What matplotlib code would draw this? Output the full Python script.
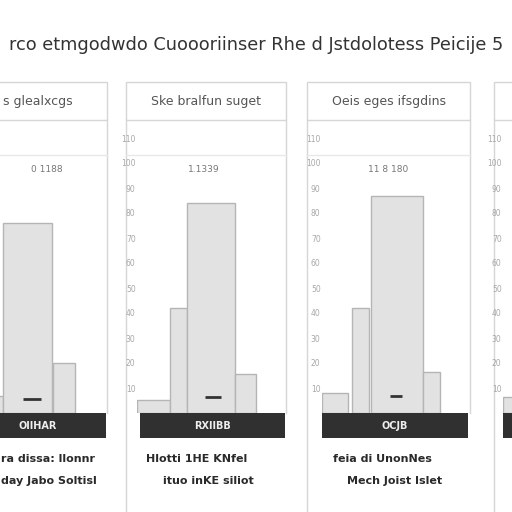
import matplotlib.pyplot as plt
from matplotlib.patches import Rectangle

# text (it is blurred / garbled, kept as close as possible)
title = "rco etmgodwdo Cuoooriinser Rhe d Jstdolotess Peicije 5"
panel_titles = ["s glealxcgs", "Ske bralfun suget", "Oeis eges ifsgdins", ""]
strip_labels = ["OIIHAR", "RXIIBB", "OCJB", ""]
value_labels = ["0 1188", "1.1339", "11 8 180", ""]
notes_1 = ["ra dissa: llonnr", "Hlotti 1HE KNfel", "feia di UnonNes", ""]
notes_2 = ["day Jabo Soltisl", "ituo inKE siliot", "Mech Joist Islet", ""]

# bar values per panel
bars_1 = [7, 76, 20]
bars_2 = [5.2, 42, 84, 15.6]
bars_3 = [8, 42, 86.8, 16.4]
bars_4 = [6.4]
marks = [5.6, 6.4, 6.8, None]

yticks = [10, 20, 30, 40, 50, 60, 70, 80, 90, 100, 110]
ylabels = ["10", "20", "30", "40", "50", "60", "70", "80", "90", "100", "110"]

# layout (pixels on a 512x512 canvas)
W = 512.0
panel_x = [(0, 106), (137, 285), (322, 468), (503, 560)]
bar_left = [[-22, 3, 53], [0, 33, 50, 98], [0, 30, 49, 101], [0]]
bar_w = [[25, 49, 22], [33, 17, 48, 21], [26, 17, 52, 17], [12]]
mark_x = [(23, 41), (68, 84), (68, 80), None]
header_x = [(-5, 107), (126, 286), (307, 470), (494, 530)]
strip_x = [(-5, 106), (140, 285), (322, 468), (503, 530)]
text_cx = [38, 206, 388, 520]
note_x = [1, 146, 333, 520]
note2_x = [1, 163, 347, 520]
ax_top, ax_bot = 125, 413

fig = plt.figure(figsize=(5.12, 5.12), dpi=100)
fig.patch.set_facecolor("white")

bg = fig.add_axes([0, 0, 1, 1], zorder=0)
bg.set_xlim(0, W)
bg.set_ylim(W, 0)
bg.axis("off")

line_c = "#d6d6d6"
bg.text(256, 45, title, ha="center", va="center", fontsize=12.8, color="#333333")

for i in range(4):
    hx0, hx1 = header_x[i]
    bg.add_patch(Rectangle((hx0, 82), hx1 - hx0, 38, fill=False, ec=line_c, lw=1))
    if panel_titles[i]:
        bg.text((hx0 + hx1) / 2 if i else text_cx[0], 101, panel_titles[i], ha="center",
                va="center", fontsize=9, color="#555555")
    # body borders
    if i > 0:
        bg.plot([hx0, hx0], [120, 512], color=line_c, lw=1)
    if i < 3:
        bg.plot([hx1, hx1], [120, 413], color=line_c, lw=1)
        bg.plot([hx0, hx1], [155, 155], color="#e8e8e8", lw=1)
    sx0, sx1 = strip_x[i]
    bg.add_patch(Rectangle((sx0, 413), sx1 - sx0, 25, color="#303030", lw=0))
    if strip_labels[i]:
        bg.text(text_cx[i] if i == 0 else (sx0 + sx1) / 2, 426, strip_labels[i],
                ha="center", va="center", fontsize=7, color="#eeeeee", fontweight="bold")
    if notes_1[i]:
        bg.text(note_x[i], 459, notes_1[i], ha="left", va="center", fontsize=8,
                color="#2a2a2a", fontweight="bold")
        bg.text(note2_x[i], 481, notes_2[i], ha="left", va="center", fontsize=8,
                color="#2a2a2a", fontweight="bold")

all_bars = [bars_1, bars_2, bars_3, bars_4]
for i in range(4):
    x0, x1 = panel_x[i]
    ax = fig.add_axes([x0 / W, 1 - ax_bot / W, (x1 - x0) / W, (ax_bot - ax_top) / W], zorder=1)
    ax.patch.set_alpha(0)
    ax.set_xlim(0, x1 - x0)
    ax.set_ylim(0, (ax_bot - ax_top) / 2.5)
    ax.bar(bar_left[i], all_bars[i], width=bar_w[i], align="edge",
           color="#e2e2e2", edgecolor="#b5b5b5", linewidth=1)
    if mark_x[i]:
        ax.hlines(marks[i], mark_x[i][0], mark_x[i][1], color="#333333", lw=2)
    if value_labels[i]:
        ax.text(0.45 if i else 0.44, (ax_bot - 170) / (ax_bot - ax_top), value_labels[i],
                transform=ax.transAxes, ha="center", va="center", fontsize=6.5, color="#777777")
    for s in ax.spines.values():
        s.set_visible(False)
    ax.set_xticks([])
    if i > 0:
        ax.set_yticks(yticks)
        ax.set_yticklabels(ylabels, fontsize=5.5, color="#a8a8a8")
        ax.tick_params(axis="y", length=0, pad=1)
    else:
        ax.set_yticks([])

fig.savefig("out.png", dpi=100)
